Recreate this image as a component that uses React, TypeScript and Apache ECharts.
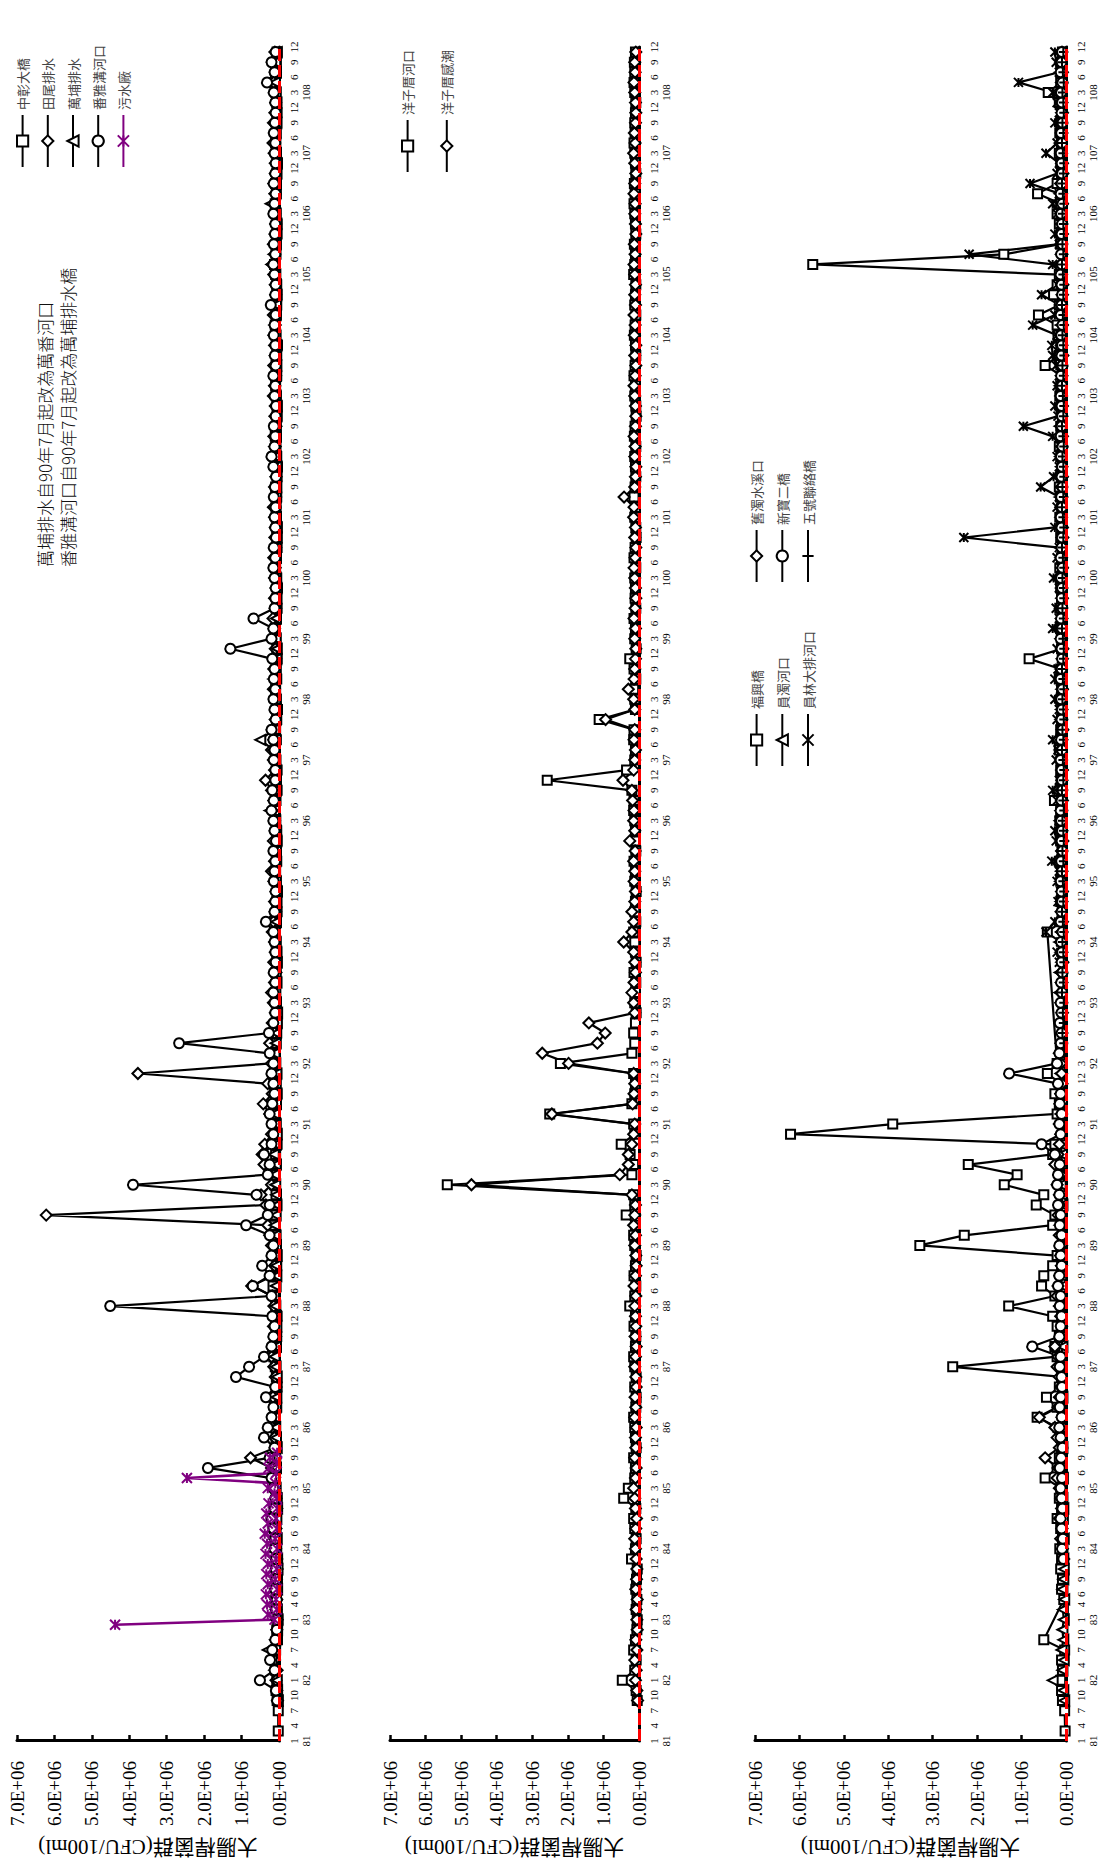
import React, { useEffect, useRef } from "react";
import * as echarts from "echarts";

const _ = null;

// ---- time axis (ROC years 81..108, monthly categories) ----
const YEARS = [81, 82, 83, 84, 85, 86, 87, 88, 89, 90, 91, 92, 93, 94, 95, 96, 97, 98, 99, 100, 101, 102, 103, 104, 105, 106, 107, 108];
const MONTHS = [1, 2, 3, 4, 5, 6, 7, 8, 9, 10, 11, 12];
const LABEL_MONTHS_EARLY = [1, 4, 7, 10]; // years 81-82
const LABEL_MONTHS_83 = [1, 4, 6, 9, 12]; // year 83
const LABEL_MONTHS_LATE = [3, 6, 9, 12]; // years 84-108
// samples are bimonthly: months 1,3,5,7,9,11 of each year (values in units of 1E4 CFU/100ml)
const UNIT = 1e4;

// ---- value axis ----
const Y_MIN = 0;
const Y_MAX = 7e6;
const Y_STEP = 1e6;
const Y_NAME = "大腸桿菌群(CFU/100ml)";
const NOTE = "萬埔排水自90年7月起改為萬番河口\n番雅溝河口自90年7月起改為萬埔排水橋";

// ================= panel 1 =================
const ZHONGZHANG = [ // 中彰大橋
  _, 2, _, 2, 5, 8,
  6, 10, 12, 9, 4, 6,
  3, 5, 8, 6, 4, 7,
  5, 6, 9, 12, 8, 5,
  6, 9, 12, 15, 10, 7,
  8, 12, 10, 6, 9, 5,
  7, 10, 14, 9, 6, 8,
  5, 9, 12, 16, 8, 6,
  7, 10, 8, 12, 9, 6,
  8, 12, 10, 7, 9, 5,
  6, 8, 10, 7, 5, 8,
  6, 9, 12, 8, 6, 5,
  4, 7, 9, 6, 8, 5,
  6, 8, 10, 7, 5, 6,
  4, 7, 9, 6, 8, 5,
  6, 9, 12, 8, 5, 7,
  5, 8, 10, 7, 9, 6,
  4, 7, 9, 6, 8, 5,
  6, 8, 10, 7, 5, 6,
  4, 6, 9, 7, 5, 6,
  5, 7, 8, 6, 9, 5,
  4, 6, 8, 10, 7, 5,
  5, 7, 9, 6, 8, 6,
  4, 8, 10, 7, 6, 5,
  6, 9, 12, 8, 7, 5,
  5, 8, 10, 7, 9, 6,
  4, 7, 9, 8, 6, 5,
  6, 8, 11, 9, 7, 5,
];
const TIANWEI = [ // 田尾排水
  _, _, _, _, 4, 6,
  8, 5, 12, 18, 9, 6,
  5, 8, 6, 9, 7, 5,
  6, 9, 12, 8, 10, 6,
  8, 12, 15, 20, 76, 10,
  12, 18, 14, 10, 16, 8,
  10, 14, 20, 12, 9, 15,
  10, 14, 18, 73, 16, 12,
  14, 20, 25, 30, 622, 35,
  48, 20, 25, 40, 45, 38,
  20, 15, 25, 42, 18, 30,
  377, 20, 15, 25, 12, 18,
  10, 15, 20, 12, 8, 14,
  10, 12, 18, 15, 9, 12,
  8, 14, 20, 12, 10, 15,
  10, 12, 18, 14, 20, 36,
  12, 15, 20, 14, 18, 10,
  8, 12, 15, 10, 14, 9,
  10, 14, 12, 16, 9, 12,
  8, 12, 10, 14, 9, 11,
  10, 12, 15, 9, 12, 8,
  9, 12, 10, 14, 8, 11,
  10, 15, 12, 9, 14, 10,
  12, 14, 10, 15, 11, 9,
  10, 14, 18, 12, 15, 11,
  9, 12, 15, 11, 14, 10,
  10, 13, 16, 12, 15, 11,
  9, 12, 14, 10, 18, 11,
];
const WANPU = [ // 萬埔排水
  _, _, _, _, 3, 5,
  6, 12, 20, 30, 10, 5,
  4, 6, 8, 5, 7, 4,
  5, 8, 6, 9, 7, 5,
  6, 9, 12, 8, 10, 6,
  8, 10, 12, 9, 7, 8,
  6, 9, 12, 8, 10, 7,
  8, 10, 14, 9, 7, 8,
  6, 8, 10, 12, 9, 7,
  8, 10, 12, 9, 14, 8,
  6, 9, 12, 8, 7, 9,
  7, 10, 12, 9, 8, 6,
  5, 8, 10, 7, 9, 6,
  7, 9, 12, 8, 10, 7,
  6, 9, 14, 10, 8, 7,
  8, 10, 25, 12, 9, 8,
  10, 12, 15, 50, 14, 9,
  8, 10, 12, 15, 9, 7,
  6, 9, 12, 8, 10, 7,
  7, 9, 11, 8, 10, 6,
  6, 8, 10, 9, 7, 8,
  7, 9, 12, 8, 10, 7,
  6, 9, 11, 8, 7, 9,
  7, 10, 12, 9, 8, 7,
  8, 10, 20, 14, 9, 8,
  7, 9, 22, 10, 8, 7,
  6, 8, 10, 9, 7, 8,
  7, 9, 11, 8, 10, 6,
];
const FANYA = [ // 番雅溝河口
  _, _, _, _, 5, 8,
  51, 12, 24, 18, 10, 6,
  5, 8, 6, 10, 7, 9,
  8, 12, 10, 15, 20, 12,
  10, 15, 20, 190, 25, 12,
  40, 30, 20, 15, 35, 10,
  115, 80, 40, 20, 15, 12,
  18, 451, 20, 70, 25, 45,
  20, 15, 25, 88, 30, 25,
  60, 390, 30, 25, 40, 20,
  15, 20, 25, 18, 12, 15,
  20, 15, 25, 267, 27, 15,
  10, 12, 15, 10, 14, 9,
  10, 12, 15, 35, 12, 10,
  9, 14, 12, 10, 15, 8,
  12, 15, 20, 14, 18, 10,
  10, 14, 12, 15, 20, 9,
  12, 15, 10, 14, 12, 18,
  130, 20, 15, 68, 12, 10,
  9, 12, 15, 10, 14, 8,
  10, 12, 9, 14, 11, 8,
  15, 20, 12, 10, 14, 9,
  8, 12, 10, 15, 9, 11,
  10, 14, 12, 9, 22, 10,
  9, 12, 15, 10, 14, 11,
  10, 15, 12, 9, 14, 10,
  9, 12, 10, 14, 11, 9,
  10, 14, 32, 12, 20, 9,
];
// 污水廠: monthly samples from 82/12 to 85/10
const SEWAGE_START = "82/12";
const SEWAGE = [
  438,
  12, 30, 6, 32, 8, 35, 5, 30, 10, 34, 6, 30,
  8, 36, 5, 32, 10, 38, 6, 30, 8, 34, 5, 28,
  6, 12, 30, 10, 246, 8, 28, 6, 24, 5,
];

// ================= panel 2 =================
const YANGZI_MOUTH = [ // 洋子厝河口
  _, _, _, _, 5, 8,
  47, 12, 8, 15, 10, 6,
  5, 8, 6, 9, 7, 5,
  21, 10, 8, 12, 15, 9,
  43, 30, 12, 10, 15, 8,
  10, 12, 15, 9, 8, 12,
  8, 12, 15, 10, 9, 14,
  10, 26, 12, 9, 14, 10,
  8, 12, 15, 10, 36, 12,
  15, 539, 20, 15, 25, 50,
  12, 15, 251, 20, 12, 10,
  15, 221, 20, 12, 15, 10,
  8, 12, 10, 9, 14, 8,
  10, 12, 15, 9, 12, 10,
  8, 12, 10, 14, 9, 11,
  10, 12, 15, 14, 20, 258,
  35, 12, 10, 15, 14, 112,
  10, 12, 15, 9, 14, 26,
  8, 12, 10, 14, 9, 11,
  10, 12, 9, 14, 11, 8,
  9, 12, 10, 14, 11, 9,
  10, 12, 9, 13, 11, 8,
  9, 12, 10, 14, 11, 9,
  10, 13, 11, 9, 12, 10,
  9, 15, 12, 10, 13, 9,
  10, 12, 14, 11, 13, 9,
  10, 12, 14, 11, 12, 10,
  9, 12, 14, 12, 13, 10,
];
const YANGZI_TIDAL = [ // 洋子厝感潮
  _, _, _, _, 4, 6,
  10, 8, 12, 6, 9, 5,
  6, 8, 5, 9, 7, 6,
  8, 10, 12, 9, 7, 10,
  12, 15, 10, 8, 12, 9,
  10, 8, 12, 9, 11, 8,
  9, 12, 10, 8, 11, 9,
  10, 12, 9, 14, 10, 8,
  9, 12, 10, 15, 12, 10,
  20, 471, 54, 30, 30, 20,
  15, 12, 245, 18, 14, 12,
  15, 198, 272, 117, 95, 141,
  12, 15, 20, 14, 10, 12,
  15, 43, 20, 15, 20, 12,
  10, 14, 12, 15, 11, 26,
  12, 15, 14, 18, 20, 45,
  15, 12, 10, 14, 12, 94,
  12, 15, 30, 14, 12, 10,
  9, 12, 10, 14, 11, 9,
  10, 12, 14, 11, 9, 12,
  10, 15, 14, 42, 12, 10,
  9, 12, 11, 14, 10, 9,
  10, 12, 14, 11, 9, 12,
  9, 13, 11, 14, 10, 12,
  10, 12, 14, 11, 13, 9,
  10, 12, 11, 14, 12, 9,
  12, 15, 11, 13, 10, 9,
  10, 12, 14, 11, 12, 9,
];

// ================= panel 3 =================
const FUXING = [ // 福興橋
  _, 2, _, 3, 8, 10,
  12, 8, 10, 3, 50, _,
  _, _, 5, 10, 8, 12,
  10, 14, 8, 12, 20, 10,
  15, 12, 47, 20, 15, 10,
  12, 18, 65, 20, 44, 15,
  10, 255, 20, 25, 15, 20,
  30, 129, 25, 55, 50, 30,
  20, 329, 229, 30, 25, 67,
  50, 139, 110, 220, 30, 25,
  620, 390, 20, 15, 25, 12,
  42, 20, _, _, _, _,
  _, _, _, _, _, _,
  _, _, 42, 10, 8, 12,
  8, 12, 10, 15, 9, 12,
  10, 14, 12, 26, 9, 11,
  12, 10, 15, 9, 12, 10,
  9, 12, 10, 15, 12, 83,
  10, 8, 12, 9, 14, 10,
  12, 9, 14, 10, 8, 12,
  10, 14, 9, 12, 15, 10,
  9, 12, 15, 10, 12, 8,
  10, 14, 12, 9, 47, 15,
  12, 18, 20, 62, 15, 28,
  20, 15, 570, 140, 12, 10,
  15, 20, 12, 64, 20, 10,
  12, 15, 10, 14, 12, 10,
  15, 40, 12, 10, 12, 8,
];
const YUANZHUO = [ // 員濁河口
  _, _, _, _, 4, 6,
  30, 8, 5, 10, 6, 8,
  5, 7, 4, 8, 6, 5,
  6, 8, 5, 9, 7, 6,
  8, 10, 7, 12, 9, 8,
  10, 12, 9, 14, 8, 10,
  9, 12, 10, 8, 11, 9,
  10, 14, 12, 9, 11, 10,
  9, 12, 10, 14, 11, 8,
  10, 12, 15, 11, 9, 12,
  10, 14, 12, 9, 11, 10,
  12, 10, 14, 11, 9, 12,
  10, 12, 15, 11, 14, 10,
  12, 15, 11, 14, 10, 12,
  10, 13, 11, 14, 9, 12,
  11, 14, 12, 10, 13, 9,
  10, 12, 14, 11, 9, 12,
  11, 13, 10, 14, 12, 9,
  10, 12, 14, 11, 13, 10,
  11, 13, 10, 12, 14, 9,
  10, 12, 11, 14, 10, 12,
  11, 13, 10, 12, 14, 10,
  10, 12, 14, 11, 9, 12,
  11, 14, 12, 10, 13, 9,
  10, 12, 14, 11, 12, 10,
  11, 13, 10, 14, 12, 9,
  10, 12, 14, 11, 13, 10,
  11, 12, 10, 14, 12, 9,
];
const YUANLIN = [ // 員林大排河口
  _, _, _, _, _, _,
  _, _, _, _, _, _,
  _, _, _, _, _, _,
  _, _, _, _, _, _,
  _, _, _, _, _, _,
  _, _, _, _, _, _,
  _, _, _, _, _, _,
  _, _, _, _, _, _,
  _, _, _, _, _, _,
  _, _, _, _, _, _,
  _, _, _, _, _, _,
  _, _, _, _, _, _,
  _, _, _, _, _, 15,
  20, 12, 45, 25, 10, 18,
  12, 20, 15, 32, 10, 22,
  25, 15, 12, 20, 30, 15,
  10, 22, 18, 30, 12, 20,
  15, 25, 12, 25, 18, 10,
  20, 12, 30, 15, 22, 10,
  15, 28, 12, 20, 15, 230,
  25, 12, 20, 15, 57, 28,
  15, 20, 12, 30, 96, 18,
  25, 12, 20, 15, 22, 30,
  32, 20, 75, 25, 15, 55,
  20, 12, 30, 218, 15, 25,
  12, 20, 30, 15, 81, 20,
  15, 45, 20, 12, 25, 15,
  20, 30, 107, 15, 22, 25,
];
const JIUZHUO = [ // 舊濁水溪口
  _, _, _, _, _, _,
  _, _, _, _, _, _,
  _, _, _, _, _, _,
  5, 8, 12, 9, 15, 10,
  12, 15, 20, 18, 47, 15,
  20, 25, 60, 18, 15, 12,
  15, 20, 18, 25, 12, 10,
  12, 15, 20, 18, 14, 10,
  12, 10, 15, 12, 18, 14,
  15, 20, 12, 25, 18, 15,
  12, 15, 10, 14, 12, 9,
  10, 12, 15, 11, 9, 12,
  8, 10, 12, 9, 11, 7,
  9, 12, 10, 8, 11, 9,
  8, 11, 9, 12, 10, 7,
  9, 12, 10, 8, 11, 9,
  8, 10, 12, 9, 7, 10,
  9, 11, 8, 12, 10, 8,
  7, 10, 12, 9, 11, 8,
  9, 11, 8, 10, 12, 7,
  8, 10, 12, 9, 11, 8,
  9, 12, 10, 8, 11, 9,
  8, 10, 12, 9, 11, 7,
  9, 11, 8, 12, 10, 8,
  7, 10, 12, 9, 11, 8,
  9, 11, 8, 10, 12, 7,
  8, 10, 12, 9, 11, 8,
  9, 12, 10, 8, 11, 9,
];
const XINBAO = [ // 新寶二橋
  _, _, _, _, _, _,
  _, _, _, _, _, _,
  _, _, _, _, _, _,
  6, 9, 7, 10, 12, 8,
  10, 12, 9, 14, 11, 8,
  12, 15, 10, 14, 12, 9,
  10, 14, 12, 76, 15, 12,
  10, 14, 12, 18, 15, 10,
  12, 15, 10, 14, 12, 18,
  15, 20, 18, 14, 25, 55,
  12, 15, 10, 14, 12, 18,
  128, 20, 15, 12, 10, 14,
  10, 12, 9, 11, 8, 10,
  9, 11, 8, 12, 10, 9,
  10, 12, 9, 11, 8, 10,
  9, 11, 12, 10, 8, 9,
  10, 12, 9, 11, 8, 10,
  9, 11, 8, 12, 10, 9,
  10, 12, 9, 11, 8, 10,
  9, 11, 8, 12, 10, 9,
  10, 12, 9, 11, 8, 10,
  9, 11, 8, 12, 10, 9,
  10, 12, 9, 11, 8, 10,
  9, 11, 8, 12, 10, 9,
  10, 12, 9, 11, 8, 10,
  9, 11, 8, 12, 10, 9,
  10, 12, 9, 11, 8, 10,
  9, 11, 8, 12, 10, 9,
];
const WUHAO = [ // 五號聯絡橋
  _, _, _, _, _, _,
  _, _, _, _, _, _,
  _, _, _, _, _, _,
  _, _, _, _, _, _,
  _, _, _, _, _, _,
  _, _, _, _, _, _,
  _, _, _, _, _, _,
  _, _, _, _, _, _,
  _, _, _, _, _, _,
  _, _, _, _, _, _,
  _, _, _, _, _, _,
  _, _, _, 5, 8, 6,
  7, 5, 9, 6, 8, 5,
  6, 8, 5, 7, 9, 6,
  5, 7, 9, 6, 8, 5,
  6, 8, 5, 7, 9, 6,
  5, 7, 9, 6, 8, 5,
  6, 8, 5, 7, 9, 6,
  5, 7, 9, 6, 8, 5,
  6, 8, 5, 7, 9, 6,
  5, 7, 9, 6, 8, 5,
  6, 8, 5, 7, 9, 6,
  5, 7, 9, 6, 8, 5,
  6, 8, 5, 7, 9, 6,
  5, 7, 9, 6, 8, 5,
  6, 8, 5, 7, 9, 6,
  5, 7, 9, 6, 8, 5,
  6, 8, 5, 7, 9, 6,
];

const CATEGORIES = YEARS.flatMap((y) => MONTHS.map((m) => `${y}/${m}`));

const labelMonthsFor = (y: number) =>
  y <= 82 ? LABEL_MONTHS_EARLY : y === 83 ? LABEL_MONTHS_83 : LABEL_MONTHS_LATE;

const X_SYM = "path://M0,0L10,10M10,0L0,10M0,5L10,5";
const PLUS_SYM = "path://M0,5L10,5M5,0L5,10";

function bimonthly(vals: (number | null)[]) {
  const out: [number, number][] = [];
  vals.forEach((v, k) => {
    if (v != null) out.push([2 * k, v * UNIT]);
  });
  return out;
}
function monthlyFrom(start: string, vals: number[]) {
  const s = CATEGORIES.indexOf(start);
  return vals.map((v, k) => [s + k, v * UNIT] as [number, number]);
}

function fmtExp(v: number) {
  if (v === 0) return "0.0E+00";
  const e = Math.floor(Math.log10(v) + 1e-9);
  const mant = v / Math.pow(10, e);
  return mant.toFixed(1) + "E+" + String(e).padStart(2, "0");
}

const SERIF = "'Liberation Serif','Times New Roman','Noto Sans CJK TC',serif";
const CJK = "'Noto Sans CJK TC','Noto Sans CJK SC',sans-serif";

function mkSeries(name: string, symbol: string, size: number, data: any, axis: number, color = "#000", lw = 2.2) {
  return {
    type: "line",
    name,
    data,
    xAxisIndex: axis,
    yAxisIndex: axis,
    symbol,
    symbolSize: size,
    showSymbol: true,
    showAllSymbol: true,
    lineStyle: { color, width: lw },
    itemStyle: { color, borderColor: color, borderWidth: 2 },
    emphasis: { disabled: true },
    silent: true,
  };
}

const GRID_LEFT = 111;
const GRID_WIDTH = 1708;
const GRIDS = [
  { top: 17, height: 262 },
  { top: 390, height: 249 },
  { top: 755, height: 311 },
];

function buildOption() {
  const xAxes = GRIDS.map((_g, i) => ({
    type: "category",
    gridIndex: i,
    data: CATEGORIES,
    boundaryGap: false,
    axisLine: { show: true, onZero: true, lineStyle: { color: "#000", width: 3 } },
    axisTick: { show: false },
    splitLine: { show: false },
    axisLabel: {
      show: true,
      interval: (idx: number) => {
        const y = YEARS[Math.floor(idx / 12)];
        const m = (idx % 12) + 1;
        return labelMonthsFor(y).includes(m);
      },
      formatter: (_v: string, idx: number) => {
        const y = YEARS[Math.floor(idx / 12)];
        const m = (idx % 12) + 1;
        const first = labelMonthsFor(y)[0];
        return m === first ? `${m}\n${y}` : `${m}`;
      },
      color: "#000",
      fontSize: 11,
      lineHeight: 12,
      fontFamily: SERIF,
      margin: 9,
      hideOverlap: false,
    },
  }));
  const yAxes = GRIDS.map((_g, i) => ({
    type: "value",
    gridIndex: i,
    min: Y_MIN,
    max: Y_MAX,
    interval: Y_STEP,
    name: Y_NAME,
    nameLocation: "middle",
    nameGap: 96,
    nameTextStyle: { color: "#000", fontSize: 21, fontFamily: SERIF },
    axisLine: { show: true, lineStyle: { color: "#000", width: 3 } },
    axisTick: { show: true, inside: true, length: 6, lineStyle: { color: "#000", width: 2.5 } },
    splitLine: { show: false },
    axisLabel: { color: "#000", fontSize: 19, fontFamily: SERIF, margin: 20, formatter: fmtExp },
  }));
  const redLine = {
    silent: true,
    symbol: "none",
    label: { show: false },
    lineStyle: { color: "#ff0000", type: [12, 4], width: 3 },
    data: [{ yAxis: 0 }],
    z: 5,
  };
  const series: any[] = [
    mkSeries("中彰大橋", "emptyRect", 9, bimonthly(ZHONGZHANG), 0),
    mkSeries("田尾排水", "emptyDiamond", 11, bimonthly(TIANWEI), 0),
    mkSeries("萬埔排水", "emptyTriangle", 10, bimonthly(WANPU), 0),
    mkSeries("番雅溝河口", "emptyCircle", 10, bimonthly(FANYA), 0),
    mkSeries("污水廠", X_SYM, 10, monthlyFrom(SEWAGE_START, SEWAGE), 0, "#800080", 2.6),
    mkSeries("洋子厝河口", "emptyRect", 9, bimonthly(YANGZI_MOUTH), 1),
    mkSeries("洋子厝感潮", "emptyDiamond", 11, bimonthly(YANGZI_TIDAL), 1),
    mkSeries("福興橋", "emptyRect", 9, bimonthly(FUXING), 2),
    mkSeries("員濁河口", "emptyTriangle", 10, bimonthly(YUANZHUO), 2),
    mkSeries("員林大排河口", X_SYM, 9, bimonthly(YUANLIN), 2),
    mkSeries("舊濁水溪口", "emptyDiamond", 11, bimonthly(JIUZHUO), 2),
    mkSeries("新寶二橋", "emptyCircle", 10, bimonthly(XINBAO), 2),
    mkSeries("五號聯絡橋", PLUS_SYM, 9, bimonthly(WUHAO), 2),
  ];
  series[4].markLine = redLine;
  series[6].markLine = redLine;
  series[12].markLine = redLine;

  const legendBase = {
    orient: "vertical",
    padding: 0,
    itemWidth: 52,
    itemHeight: 14,
    selectedMode: false,
    textStyle: { color: "#444", fontSize: 13, fontFamily: CJK },
  };
  return {
    animation: false,
    backgroundColor: "#fff",
    grid: GRIDS.map((g) => ({ left: GRID_LEFT, width: GRID_WIDTH, top: g.top, height: g.height, containLabel: false })),
    xAxis: xAxes,
    yAxis: yAxes,
    legend: [
      { ...legendBase, left: 1698, top: 16, itemGap: 12, data: ["中彰大橋", "田尾排水", "萬埔排水", "番雅溝河口", "污水廠"] },
      { ...legendBase, left: 1693, top: 401, itemGap: 26, data: ["洋子厝河口", "洋子厝感潮"] },
      { ...legendBase, left: 1099, top: 750, itemGap: 12.5, data: ["福興橋", "員濁河口", "員林大排河口"] },
      { ...legendBase, left: 1283, top: 750, itemGap: 12.5, data: ["舊濁水溪口", "新寶二橋", "五號聯絡橋"] },
    ],
    graphic: [
      {
        type: "text",
        left: 1299,
        top: 33,
        silent: true,
        style: { text: NOTE, fontSize: 17, lineHeight: 23, fill: "#111", fontWeight: 300, fontFamily: CJK },
      },
    ],
    series,
  };
}

export default function App() {
  const ref = useRef<HTMLDivElement>(null);
  useEffect(() => {
    if (!ref.current) return;
    const chart = echarts.init(ref.current, undefined, { renderer: "svg" });
    chart.setOption(buildOption() as any);
    return () => chart.dispose();
  }, []);
  return (
    <div style={{ position: "fixed", left: 0, top: 0, width: 1099, height: 1866, overflow: "hidden", background: "#fff" }}>
      <div
        style={{
          position: "absolute",
          left: 0,
          top: 1866,
          width: 1866,
          height: 1099,
          transform: "rotate(-90deg)",
          transformOrigin: "0 0",
        }}
      >
        <div ref={ref} style={{ width: 1866, height: 1099 }} />
      </div>
    </div>
  );
}
